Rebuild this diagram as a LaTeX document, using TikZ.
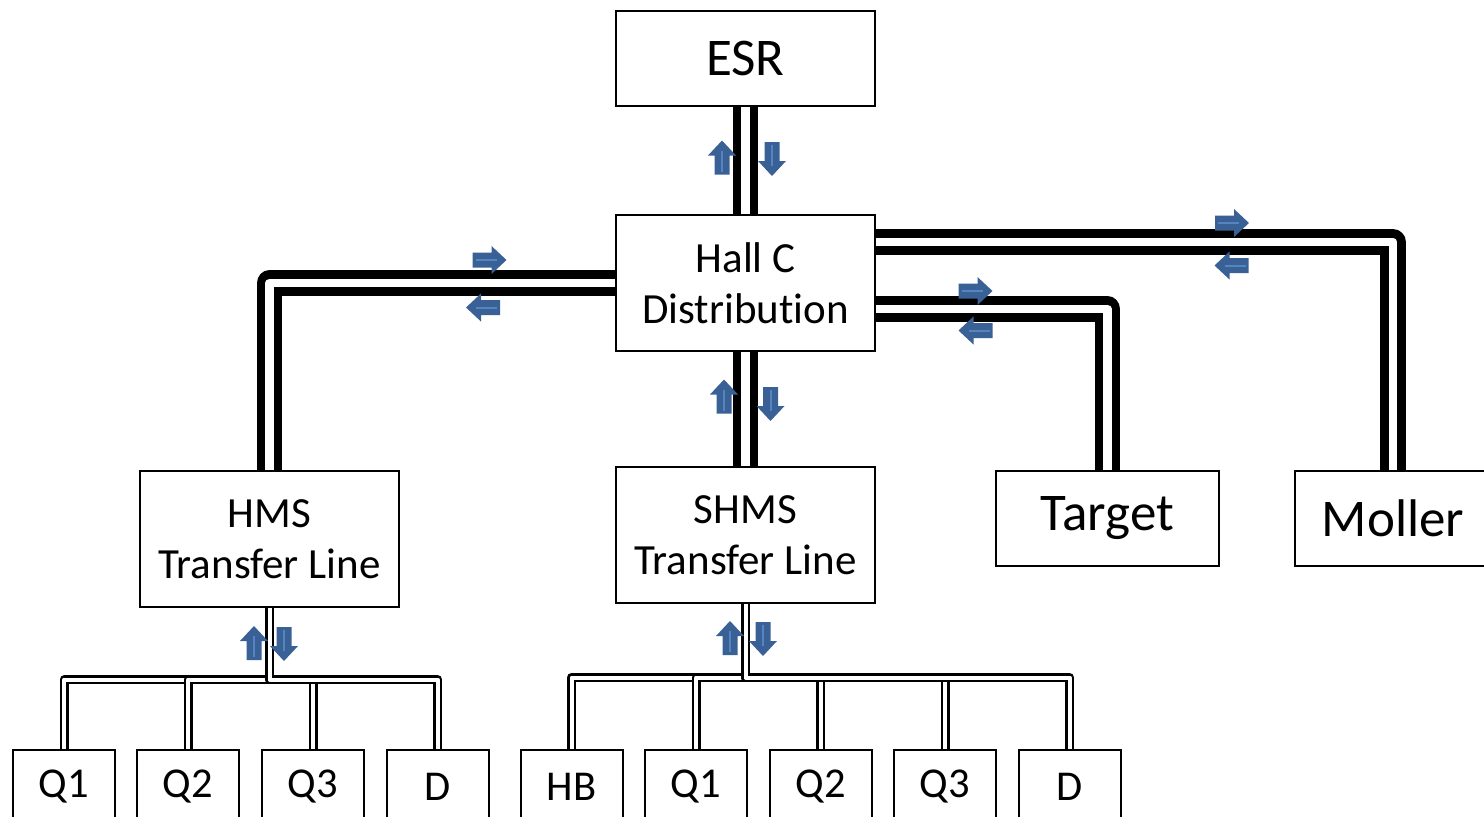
\documentclass[tikz,border=0pt]{standalone}
\usepackage{fontspec}
\setmainfont{Carlito}[Ligatures=NoCommon]
\usetikzlibrary{backgrounds}
\definecolor{arrdark}{RGB}{58,97,150}
\definecolor{arrlight}{RGB}{84,133,192}
\begin{document}
\begin{tikzpicture}[x=1pt,y=-1pt,
  box/.style={draw=black, line width=2pt, fill=white, inner sep=0pt, align=center},
  big/.style={font=\fontsize{53}{62}\selectfont},
  mid/.style={font=\fontsize{43}{51}\selectfont},
  small/.style={font=\fontsize{42.5}{50}\selectfont, minimum width=102pt, minimum height=74pt},
  pipe/.style={line width=8.5pt, double=white, double distance=8.5pt, line join=round},
  tube/.style={line width=2.5pt, double=white, double distance=4pt, line join=round},
  flow/.pic={
    \fill[arrdark] (-17,-7.5) -- (2,-7.5) -- (2,-14) -- (17,0) -- (2,14) -- (2,7.5) -- (-17,7.5) -- cycle;
    \draw[arrlight, line width=2pt] (-14,0) -- (7,0);
  }
]
\useasboundingbox (0,0) rectangle (1484,817);
\clip (0,0) rectangle (1484,817);

% main boxes
\node[box, big, minimum width=259pt, minimum height=95pt] (esr) at (745.5,58.5) {ESR};
\node[box, mid, minimum width=259pt, minimum height=136pt] (hall) at (745.5,283) {Hall C\\Distribution};
\node[box, mid, minimum width=259pt, minimum height=136pt] (hms) at (269.5,539) {HMS\\Transfer Line};
\node[box, mid, minimum width=259pt, minimum height=136pt] (shms) at (745.5,535) {SHMS\\Transfer Line};
\node[box, big, minimum width=223pt, minimum height=95pt] (target) at (1107.5,518.5) {Target};
\node[box, big, minimum width=196pt, minimum height=95pt] (moller) at (1393,518.5) {Moller};

% HMS magnets
\node[box, small] (hq1) at (64,787) {Q1};
\node[box, small] (hq2) at (188,787) {Q2};
\node[box, small] (hq3) at (313,787) {Q3};
\node[box, small] (hd) at (437.5,787) {D};
% SHMS magnets
\node[box, small] (shb) at (571.5,787) {HB};
\node[box, small] (sq1) at (696,787) {Q1};
\node[box, small] (sq2) at (820.5,787) {Q2};
\node[box, small] (sq3) at (945,787) {Q3};
\node[box, small] (sd) at (1069.5,787) {D};

\begin{scope}[on background layer]
  \draw[pipe] (esr.south) -- (hall.north);
  \draw[pipe] (hall.south) -- (shms.north);
  \draw[pipe] (hall.west) -| (hms.north);
  \draw[pipe] ([yshift=41pt]hall.east) -| (moller.north);
  \draw[pipe] ([yshift=-26pt]hall.east) -| (target.north);
  \foreach \m in {hq1,hq2,hq3,hd}
    \draw[tube] (hms.south) -- ++(0,71.5) -| (\m.north);
  \foreach \m in {shb,sq1,sq2,sq3,sd}
    \draw[tube] (shms.south) -- ++(0,73.5) -| (\m.north);
\end{scope}

% flow arrows
\path (722,157.5) pic[rotate=90] {flow};
\path (772,159) pic[rotate=-90] {flow};
\path (489.5,260) pic {flow};
\path (483,307.5) pic[rotate=180] {flow};
\path (1232,223) pic {flow};
\path (1231.5,265.5) pic[rotate=180] {flow};
\path (975.5,291) pic {flow};
\path (975.5,330.5) pic[rotate=180] {flow};
\path (724,396.5) pic[rotate=90] {flow};
\path (770.5,404) pic[rotate=-90] {flow};
\path (254,643) pic[rotate=90] {flow};
\path (284,644) pic[rotate=-90] {flow};
\path (730,638) pic[rotate=90] {flow};
\path (763,639) pic[rotate=-90] {flow};
\end{tikzpicture}
\end{document}
